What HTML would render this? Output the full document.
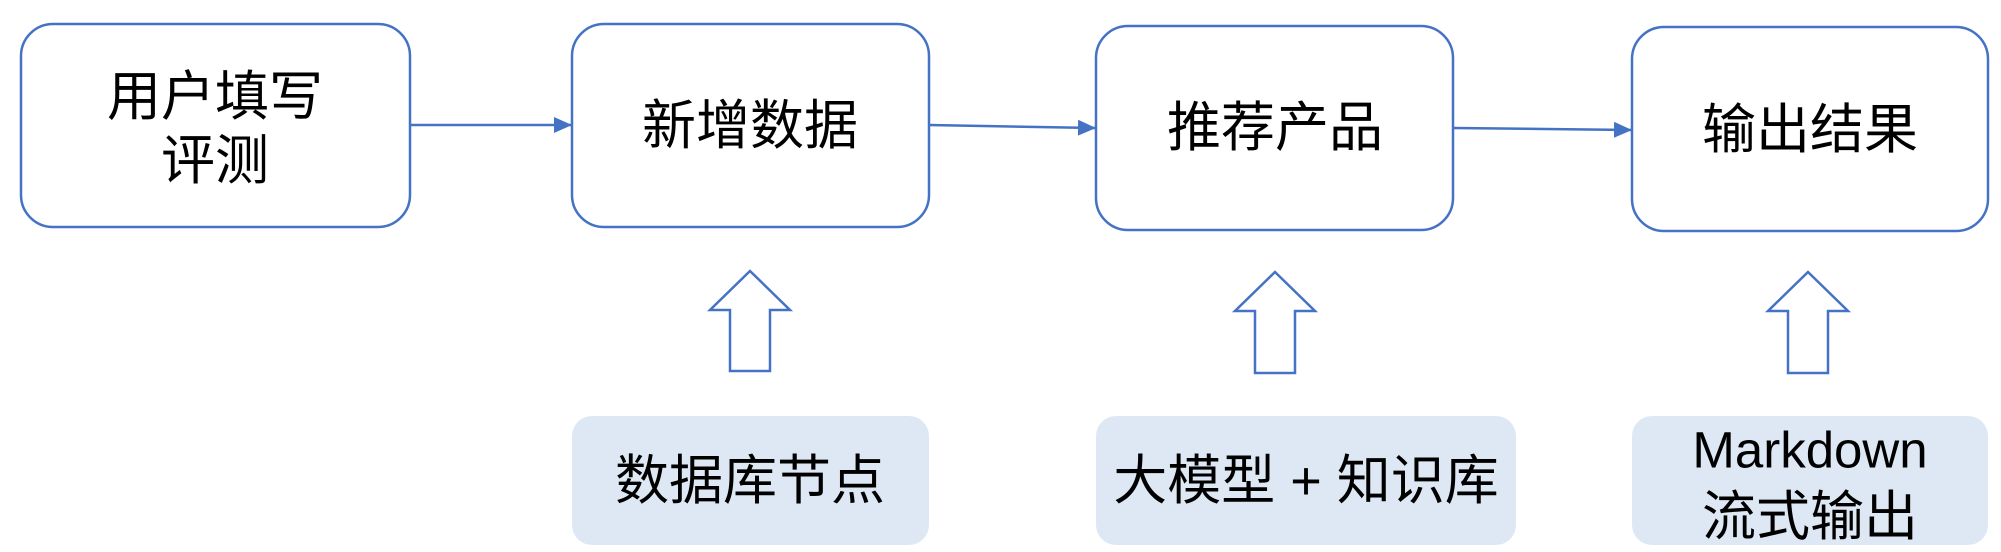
<!DOCTYPE html>
<html><head><meta charset="utf-8"><style>
html,body{margin:0;padding:0;background:#fff;}
svg{display:block;}
text{font-family:"Liberation Sans","Noto Sans CJK SC",sans-serif;font-size:54px;fill:#000;text-anchor:middle;dominant-baseline:central;}
</style></head><body>
<svg width="2001" height="552" viewBox="0 0 2001 552" xmlns="http://www.w3.org/2000/svg">
<defs><marker id="ah" markerWidth="18" markerHeight="16" refX="17" refY="8" orient="auto" markerUnits="userSpaceOnUse" viewBox="0 0 18 16"><path d="M0,0 L18,8 L0,16 z" fill="#4472c4"/></marker></defs>
<g fill="#fff" stroke="#4472c4" stroke-width="2.5">
<rect x="21" y="24" width="389" height="203" rx="32"/>
<rect x="572" y="24" width="357" height="203" rx="32"/>
<rect x="1096" y="26" width="357" height="204" rx="32"/>
<rect x="1632" y="27" width="356" height="204" rx="32"/>
</g>
<g stroke="#4472c4" stroke-width="2.5" fill="none">
<line x1="410" y1="125" x2="571" y2="125" marker-end="url(#ah)"/>
<line x1="929" y1="125" x2="1095" y2="128" marker-end="url(#ah)"/>
<line x1="1453" y1="128" x2="1631" y2="130" marker-end="url(#ah)"/>
</g>
<g fill="#fff" stroke="#4472c4" stroke-width="2.5">
<path d="M750,271 L790,310 L770,310 L770,371 L730,371 L730,310 L710,310 Z"/>
<path d="M1275,272 L1315,311 L1295,311 L1295,373 L1255,373 L1255,311 L1235,311 Z"/>
<path d="M1808,272 L1848,311 L1828,311 L1828,373 L1788,373 L1788,311 L1768,311 Z"/>
</g>
<g fill="#dee8f4">
<rect x="572" y="416" width="357" height="129" rx="20"/>
<rect x="1096" y="416" width="420" height="129" rx="20"/>
<rect x="1632" y="416" width="356" height="129" rx="20"/>
</g>
<text x="215" y="97">用户填写</text>
<text x="215" y="161">评测</text>
<text x="750" y="126">新增数据</text>
<text x="1275" y="128">推荐产品</text>
<text x="1810" y="130">输出结果</text>
<text x="750" y="481">数据库节点</text>
<text x="1306" y="481">大模型 + 知识库</text>
<text x="1810" y="450" style="font-size:51px">Markdown</text>
<text x="1810" y="517">流式输出</text>
</svg>
</body></html>
